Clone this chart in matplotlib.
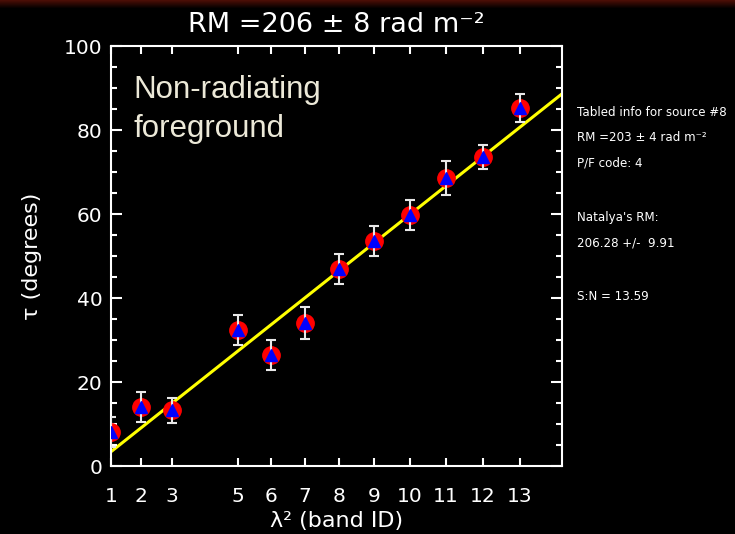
import numpy as np
import matplotlib
matplotlib.use("Agg")
import matplotlib.pyplot as plt
from matplotlib.colors import LinearSegmentedColormap
from matplotlib.ticker import MultipleLocator

# band IDs and their lambda^2 positions (cm^2, relative to band 1)
band_id = [1, 2, 3, 5, 6, 7, 8, 9, 10, 11, 12, 13]
lam2 = [0.0, 4.8, 9.8, 20.3, 25.6, 31.0, 36.5, 42.1, 47.8, 53.6, 59.5, 65.4]
lam2_max = 72.2

# polarisation angle per band
tau = [8.1, 14.0, 13.3, 32.4, 26.4, 34.0, 46.9, 53.6, 59.8, 68.6, 73.6, 85.2]
tau_err = [3.5, 3.6, 3.0, 3.6, 3.5, 3.8, 3.5, 3.5, 3.5, 4.0, 2.8, 3.4]

# fit
rm = 206
rm_err = 8
tau0 = 3.4

info_lines = [
    "Tabled info for source #8",
    "RM =203 \u00b1 4 rad m\u207b\u00b2",
    "P/F code: 4",
    "Natalya's RM:",
    "206.28 +/-  9.91",
    "S:N = 13.59",
]
info_y = [112, 137, 163, 217, 243, 296]

fg = "white"
plt.rcParams["font.family"] = "DejaVu Sans"

fig = plt.figure(figsize=(7.35, 5.34), dpi=100, facecolor="black")

# faint red strip along the top
strip = fig.add_axes([0, 1 - 9 / 534, 1, 9 / 534])
strip.imshow(np.linspace(1, 0, 9).reshape(-1, 1), aspect="auto",
             cmap=LinearSegmentedColormap.from_list("r", ["black", "#4a0e06"]))
strip.axis("off")

ax = fig.add_axes([111 / 735, 68 / 534, 451 / 735, 420 / 534], facecolor="black")

x_fit = np.array([0, lam2_max])
y_fit = tau0 + rm * 180 / np.pi * x_fit * 1e-4
ax.plot(x_fit, y_fit, color="#ffff00", lw=2.2, zorder=1)

ax.plot(lam2, tau, "o", color="red", ms=12.5, mec="red", zorder=2)
ax.errorbar(lam2, tau, yerr=tau_err, fmt="none", ecolor="#e8e8e8",
            elinewidth=1.5, capsize=3.5, capthick=1.5, zorder=3)
ax.plot(lam2, tau, "^", color="blue", ms=8.5, mec="blue", zorder=4)

ax.set_xlim(0, lam2_max)
ax.set_ylim(0, 100)
ax.set_xticks(lam2)
ax.set_xticklabels([str(b) for b in band_id])
ax.yaxis.set_major_locator(MultipleLocator(20))
ax.yaxis.set_minor_locator(MultipleLocator(5))

for s in ax.spines.values():
    s.set_color(fg)
    s.set_linewidth(1.5)
ax.tick_params(axis="both", which="both", direction="in", colors=fg,
               top=True, right=True, width=1.5, labelsize=14.5)
ax.tick_params(axis="x", length=6, pad=15)
ax.tick_params(axis="y", which="major", length=8, pad=6)
ax.tick_params(axis="y", which="minor", length=4)

ax.set_title("RM =206 \u00b1 %d rad m\u207b\u00b2" % rm_err, color=fg,
             fontsize=19.5, pad=10)
ax.set_xlabel("\u03bb\u00b2 (band ID)", color=fg, fontsize=16, labelpad=4)
ax.set_ylabel("\u03c4 (degrees)", color=fg, fontsize=16, labelpad=16)

ax.text(0.049, 0.93, "Non-radiating\nforeground", transform=ax.transAxes,
        color="#ece9d8", fontsize=22.5, family="Liberation Sans",
        va="top", ha="left", linespacing=1.38)

for line, y in zip(info_lines, info_y):
    fig.text(577 / 735, 1 - y / 534, line, color=fg, fontsize=8.6,
             va="center", ha="left")

fig.savefig("out.png", dpi=100, facecolor="black")
